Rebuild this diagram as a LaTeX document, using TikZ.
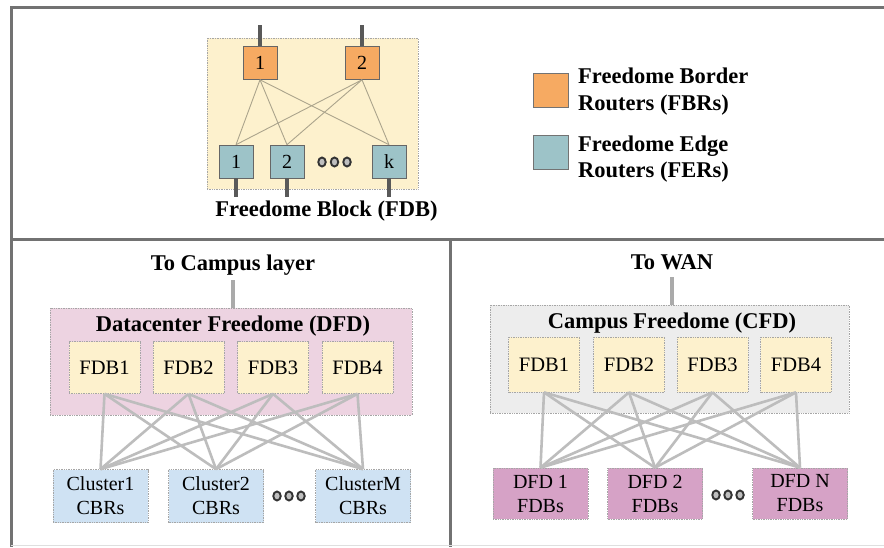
\documentclass[tikz,border=0pt]{standalone}
\usepackage{fontspec}
\setmainfont{Liberation Serif}
\usetikzlibrary{shapes.geometric}
\definecolor{fdbyellow}{HTML}{FDF1CD}
\definecolor{fbrorange}{HTML}{F6AA62}
\definecolor{ferblue}{HTML}{9DC3C8}
\definecolor{dfdpink}{HTML}{EDD3E1}
\definecolor{clusterblue}{HTML}{CFE2F3}
\definecolor{mauve}{HTML}{D6A2C6}
\definecolor{cfdgray}{HTML}{EDEDED}
\definecolor{linkgray}{HTML}{BDBDBD}
\definecolor{toplinkc}{HTML}{ABA48C}
\definecolor{framegray}{HTML}{727272}
\begin{document}
\begin{tikzpicture}[x=1pt,y=-1pt,
  frameline/.style={draw=framegray,line width=3pt},
  titletext/.style={font=\fontsize{22.5}{26}\selectfont\bfseries,inner sep=0pt,anchor=base},
  legtext/.style={font=\fontsize{22.5}{26}\selectfont\bfseries,inner sep=0pt,anchor=base west},
  router/.style={rectangle,draw=black!60,line width=0.6pt,minimum width=34pt,minimum height=33pt,inner sep=0pt,font=\fontsize{20}{24}\selectfont},
  fbrbox/.style={router,fill=fbrorange},
  ferbox/.style={router,fill=ferblue},
  legsq/.style={rectangle,draw=black!55,line width=0.6pt,minimum width=35pt,minimum height=34pt,inner sep=0pt},
  region/.style={rectangle,draw=gray!70,densely dotted,line width=0.7pt,inner sep=0pt},
  fdbbox/.style={region,fill=fdbyellow,minimum width=71pt,minimum height=52pt,font=\fontsize{20.5}{24}\selectfont},
  lowbox/.style={region,minimum width=95pt,minimum height=53pt,align=center,font=\fontsize{20}{24}\selectfont},
  dotc/.style={ellipse,draw=black!80,fill=gray!50,line width=1.9pt,minimum width=7.5pt,minimum height=9pt,inner sep=0pt},
  toplink/.style={draw=toplinkc,line width=0.9pt},
  stub/.style={draw=black!65,line width=3.5pt},
  link/.style={draw=linkgray,line width=2.6pt},
  gstub/.style={draw=linkgray!90!black,line width=4.5pt}]
\useasboundingbox (0,0) rectangle (884,547);
\fill[white] (0,0) rectangle (884,547);

% frame
\draw[frameline] (11,547) -- (11,7) -- (884,7);
\draw[frameline] (11,239.5) -- (884,239.5);
\draw[frameline] (450,239.5) -- (450,547);
\draw[gray!25,line width=1pt] (11,545) -- (884,545);

% ---------- top: Freedome Block ----------
\node[region,fill=fdbyellow,minimum width=211pt,minimum height=151pt] (fdb) at (312.5,113.5) {};
\node[fbrbox] (b1) at (260,63) {1};
\node[fbrbox] (b2) at (362,63) {2};
\node[ferbox] (e1) at (236,161.5) {1};
\node[ferbox] (e2) at (287,161.5) {2};
\node[ferbox] (ek) at (389,161.5) {k};
\node[dotc] (td1) at (322,162) {};
\node[dotc] (td2) at (334.5,162) {};
\node[dotc] (td3) at (347,162) {};
\foreach \b in {b1,b2}{
  \foreach \e in {e1,e2,ek}{
    \draw[toplink] (\b.south) -- (\e.north);
  }
}
\coordinate (b1up) at (260,25);
\coordinate (b2up) at (362,25);
\coordinate (e1dn) at (236,197);
\coordinate (e2dn) at (287,197);
\coordinate (ekdn) at (389,197);
\draw[stub] (b1.north) -- (b1up);
\draw[stub] (b2.north) -- (b2up);
\draw[stub] (e1.south) -- (e1dn);
\draw[stub] (e2.south) -- (e2dn);
\draw[stub] (ek.south) -- (ekdn);
\node[titletext] (fdblabel) at (326.5,216) {Freedome Block (FDB)};

% legend
\node[legsq,fill=fbrorange] (lgA) at (550.5,90) {};
\node[legsq,fill=ferblue] (lgB) at (550.5,152.5) {};
\node[legtext] (lgA1) at (578,83) {Freedome Border};
\node[legtext] (lgA2) at (578,110) {Routers (FBRs)};
\node[legtext] (lgB1) at (578,151) {Freedome Edge};
\node[legtext] (lgB2) at (578,177) {Routers (FERs)};

% ---------- bottom left: DFD ----------
\node[titletext] (tcl) at (233,270) {To Campus layer};
\node[region,fill=dfdpink,minimum width=362pt,minimum height=107pt] (dfd) at (231,361.5) {};
\node[titletext] (dfdlabel) at (233,331) {Datacenter Freedome (DFD)};
\coordinate (tclstub) at (233,280);
\draw[gstub] (tclstub) -- (tclstub |- dfd.north);
\node[fdbbox] (lf1) at (104.5,367.5) {FDB1};
\node[fdbbox] (lf2) at (188.5,367.5) {FDB2};
\node[fdbbox] (lf3) at (273,367.5) {FDB3};
\node[fdbbox] (lf4) at (357.5,367.5) {FDB4};
\node[lowbox,fill=clusterblue] (c1) at (100.5,496) {Cluster1\\CBRs};
\node[lowbox,fill=clusterblue] (c2) at (216,496) {Cluster2\\CBRs};
\node[lowbox,fill=clusterblue] (cm) at (363,496) {ClusterM\\CBRs};
\node[dotc] (ld1) at (277,496) {};
\node[dotc] (ld2) at (289,496) {};
\node[dotc] (ld3) at (301,496) {};
\foreach \f in {lf1,lf2,lf3,lf4}{
  \foreach \c in {c1,c2,cm}{
    \draw[link] (\f.south) -- (\c.north);
  }
}

% ---------- bottom right: CFD ----------
\node[titletext] (twan) at (672,269) {To WAN};
\node[region,fill=cfdgray,minimum width=359pt,minimum height=108pt] (cfd) at (669.5,359) {};
\node[titletext] (cfdlabel) at (672,328) {Campus Freedome (CFD)};
\coordinate (wanstub) at (672,277);
\draw[gstub] (wanstub) -- (wanstub |- cfd.north);
\node[fdbbox,minimum height=55pt] (rf1) at (544,364.5) {FDB1};
\node[fdbbox,minimum height=55pt] (rf2) at (629,364.5) {FDB2};
\node[fdbbox,minimum height=55pt] (rf3) at (712.5,364.5) {FDB3};
\node[fdbbox,minimum height=55pt] (rf4) at (796,364.5) {FDB4};
\node[lowbox,fill=mauve,minimum height=51pt] (d1) at (540.5,493.5) {DFD 1\\FDBs};
\node[lowbox,fill=mauve,minimum height=51pt] (d2) at (655,493.5) {DFD 2\\FDBs};
\node[lowbox,fill=mauve,minimum height=51pt] (dn) at (800,493.5) {DFD N\\FDBs};
\node[dotc] (rd1) at (716,495) {};
\node[dotc] (rd2) at (728,495) {};
\node[dotc] (rd3) at (740,495) {};
\foreach \f in {rf1,rf2,rf3,rf4}{
  \foreach \d in {d1,d2,dn}{
    \draw[link] (\f.south) -- (\d.north);
  }
}
\end{tikzpicture}
\end{document}
